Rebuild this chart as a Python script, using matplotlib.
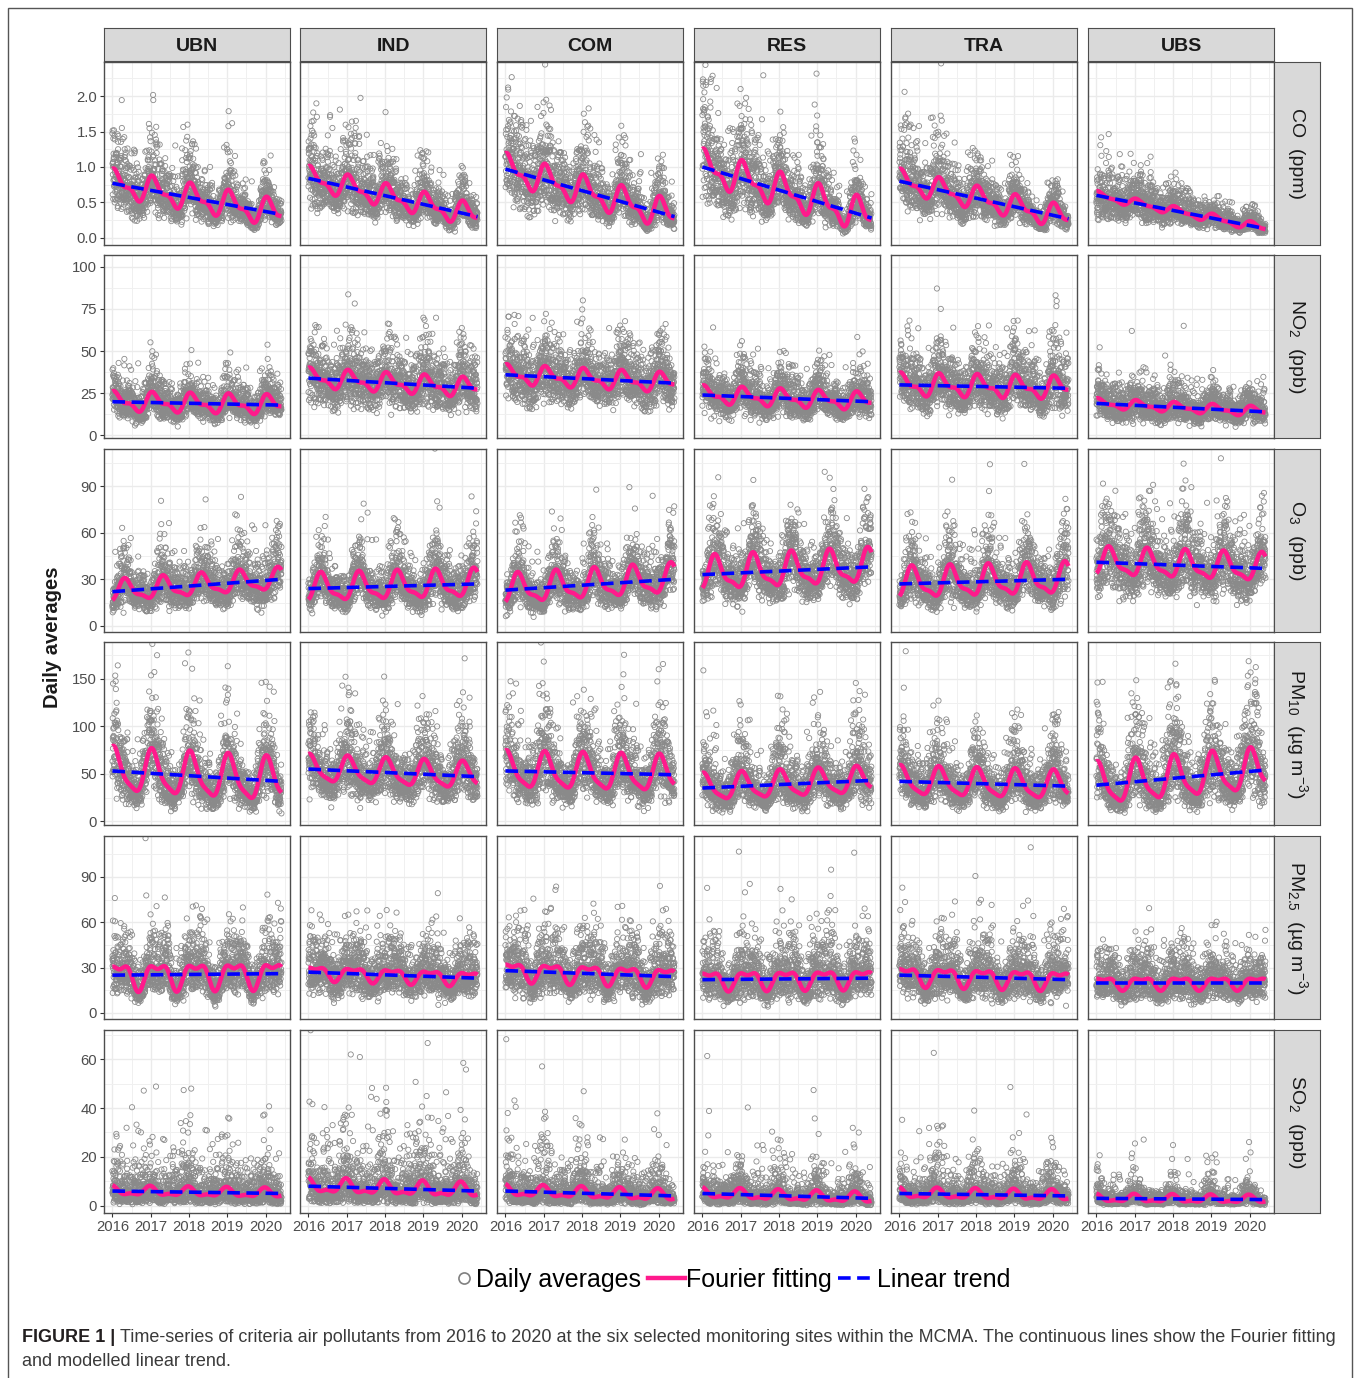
import numpy as np
import matplotlib
matplotlib.use("Agg")
import matplotlib.pyplot as plt
from matplotlib.lines import Line2D
from matplotlib.patches import Rectangle
from matplotlib.legend_handler import HandlerBase

plt.rcParams['font.family'] = ['Liberation Sans', 'DejaVu Sans']
plt.rcParams['mathtext.fontset'] = 'custom'
plt.rcParams['mathtext.rm'] = 'Liberation Sans'
plt.rcParams['mathtext.it'] = 'Liberation Sans:italic'
plt.rcParams['mathtext.default'] = 'regular'

# ---- data ----
sites = ["UBN", "IND", "COM", "RES", "TRA", "UBS"]
row_labels = ["CO  (ppm)", "NO$_2$  (ppb)", "O$_3$  (ppb)",
              "PM$_{10}$  (µg m$^{-3}$)", "PM$_{2.5}$  (µg m$^{-3}$)", "SO$_2$  (ppb)"]
year_ticks = [2016, 2017, 2018, 2019, 2020]
y_ticks = [[0, 0.5, 1.0, 1.5, 2.0], [0, 25, 50, 75, 100], [0, 30, 60, 90],
           [0, 50, 100, 150], [0, 30, 60, 90], [0, 20, 40, 60]]
y_limits = [(-0.1, 2.48), (-1.5, 107), (-4, 114), (-4, 189), (-4, 117), (-3, 72)]
t_first, t_last = 2016.0, 2020.42

# linear trend at start / end of record (rows: CO NO2 O3 PM10 PM2.5 SO2, cols: sites)
trend_start = [[0.77, 0.84, 0.97, 1.00, 0.80, 0.60],
               [20, 34, 36, 24, 30, 19],
               [22, 24, 23, 33, 27, 41],
               [53, 55, 53, 35, 42, 38],
               [25, 27, 28, 22, 25, 20],
               [6, 8, 6, 5, 5, 3]]
trend_end = [[0.33, 0.30, 0.30, 0.28, 0.27, 0.13],
             [18, 28, 31, 20, 28, 14],
             [30, 27, 30, 38, 30, 37],
             [42, 47, 49, 43, 37, 54],
             [26, 23, 24, 23, 22, 20],
             [5, 6, 4, 3, 4, 2.5]]
# half of peak-to-trough swing of the Fourier curve
season_amp = [[0.20, 0.17, 0.22, 0.25, 0.17, 0.06],
              [6, 6, 6, 5.5, 7, 3],
              [7, 9, 9.5, 11, 10, 9],
              [23, 14, 19, 14, 15, 22],
              [8.5, 4.5, 6, 6, 6, 4],
              [1.8, 2.8, 2.2, 2.0, 2.0, 1.5]]
# seasonal shape per pollutant: annual phase, 2nd harmonic weight, 2nd harmonic phase
shape_p1 = [0.10, 0.10, 0.35, 0.05, 0.18, 0.98]
shape_a2 = [0.5, 0.5, 0.35, 0.25, -0.5, 0.5]
shape_p2 = [0.0, 0.0, 0.30, 0.0, 0.68, 0.98]
# estimated scatter of the daily cloud (log spread) around the Fourier curve
cloud_spread = [[0.33, 0.33, 0.35, 0.37, 0.33, 0.32],
                [0.30, 0.30, 0.28, 0.30, 0.30, 0.32],
                [0.31, 0.32, 0.32, 0.28, 0.30, 0.28],
                [0.36, 0.33, 0.35, 0.38, 0.36, 0.40],
                [0.36, 0.36, 0.37, 0.40, 0.38, 0.38],
                [0.75, 0.75, 0.75, 0.75, 0.70, 0.65]]

# ---- layout (pixels of the 1358x1378 figure) ----
W, H = 1358, 1378
col_left = [104, 300, 497, 694, 891, 1088]
row_top = [62, 255, 449, 642, 836, 1030]
pw, ph = 186, 183


def box(x0, y0, x1, y1):
    return [x0 / W, 1 - y1 / H, (x1 - x0) / W, (y1 - y0) / H]


class CircleRight(HandlerBase):
    # legend circle sits right next to its label, like ggplot's key
    def create_artists(self, legend, orig_handle, xdescent, ydescent, width, height, fontsize, trans):
        ln = Line2D([width - xdescent - 0.45 * fontsize], [height / 2 - ydescent], marker='o',
                    ls='', mfc='none', mec='#808080', ms=8, mew=1.2, transform=trans)
        return [ln]


fig = plt.figure(figsize=(W / 100, H / 100), dpi=100)

# daily points cannot be read one by one: the cloud is drawn from the estimated spread
rng = np.random.default_rng(2020)
days = t_first + np.arange(int((t_last - t_first) * 365.25)) / 365.25

PINK = "#FF1A8C"
GREY = "#8A8A8A"

for r in range(6):
    frac = days % 1
    raw = (np.cos(2 * np.pi * (frac - shape_p1[r]))
           + shape_a2[r] * np.cos(4 * np.pi * (frac - shape_p2[r])))
    yy = np.linspace(0, 1, 400)
    ref = (np.cos(2 * np.pi * (yy - shape_p1[r]))
           + shape_a2[r] * np.cos(4 * np.pi * (yy - shape_p2[r])))
    shape = raw / ((ref.max() - ref.min()) / 2)
    for c in range(6):
        ax = fig.add_axes(box(col_left[c], row_top[r], col_left[c] + pw, row_top[r] + ph))
        s0, s1 = trend_start[r][c], trend_end[r][c]
        trend = s0 + (s1 - s0) * (days - t_first) / (t_last - t_first)
        fourier = trend + season_amp[r][c] * shape
        base = np.clip(fourier, 0.02 * y_limits[r][1], None)
        pts = base * np.exp(cloud_spread[r][c] * rng.standard_normal(days.size))
        ax.scatter(days, pts, s=14, facecolors='none', edgecolors=GREY, linewidths=0.6, zorder=2)
        ax.plot(days, fourier, color=PINK, lw=3.2, zorder=3, solid_capstyle='butt')
        ax.plot([t_first, t_last], [s0, s1], color='blue', lw=2.6, ls=(0, (3.5, 1.8)), zorder=4)

        ax.set_xticks(year_ticks)
        ax.set_xticks([y + 0.5 for y in year_ticks], minor=True)
        yt = y_ticks[r]
        ax.set_yticks(yt)
        ax.set_yticks([v + (yt[1] - yt[0]) / 2 for v in yt], minor=True)
        if r == 0:
            ax.set_yticklabels([f"{v:.1f}" for v in yt])
        ax.set_xlim(2015.78, 2020.64)
        ax.set_ylim(*y_limits[r])
        ax.grid(which='major', color='#EBEBEB', lw=1.0)
        ax.grid(which='minor', color='#F0F0F0', lw=0.7)
        ax.set_axisbelow(True)
        for sp in ax.spines.values():
            sp.set_color('#4D4D4D')
            sp.set_linewidth(1.0)
        ax.tick_params(which='major', length=3, width=0.8, color='#333333',
                       labelsize=10.7, labelcolor='#4D4D4D', pad=2)
        ax.tick_params(which='minor', length=0)
        if c != 0:
            ax.tick_params(axis='y', left=False, labelleft=False)
        if r != 5:
            ax.tick_params(axis='x', bottom=False, labelbottom=False)

# column strips
for c, name in enumerate(sites):
    sa = fig.add_axes(box(col_left[c], 28, col_left[c] + pw, 61))
    sa.set_facecolor('#D9D9D9')
    sa.set_xticks([])
    sa.set_yticks([])
    for sp in sa.spines.values():
        sp.set_color('#4D4D4D')
    sa.text(0.5, 0.45, name, ha='center', va='center', fontsize=14, fontweight='bold',
            color='#1A1A1A', transform=sa.transAxes)

# row strips
for r, lab in enumerate(row_labels):
    sa = fig.add_axes(box(1274, row_top[r], 1320, row_top[r] + ph))
    sa.set_facecolor('#D9D9D9')
    sa.set_xticks([])
    sa.set_yticks([])
    for sp in sa.spines.values():
        sp.set_color('#4D4D4D')
    sa.text(0.5, 0.5, lab, ha='center', va='center', rotation=270, fontsize=14,
            color='#1A1A1A', transform=sa.transAxes)

fig.text(52 / W, 1 - 637 / H, "Daily averages", rotation=90, ha='center', va='center',
         fontsize=14.5, fontweight='bold', color='#1A1A1A')

circle = Line2D([], [], marker='o', ls='', mfc='none', mec='#808080', ms=8, mew=1.2)
handles = [circle,
           Line2D([], [], color=PINK, lw=3.2),
           Line2D([], [], color='blue', lw=2.6, ls=(0, (3.5, 1.8)))]
fig.legend(handles, ["Daily averages", "Fourier fitting", "Linear trend"], loc='center',
           bbox_to_anchor=(724 / W, 1 - 1280 / H), ncol=3, frameon=False, fontsize=18,
           handlelength=1.5, handletextpad=0.05, columnspacing=0.25,
           handler_map={circle: CircleRight()})

# caption
renderer = fig.canvas.get_renderer()
t1 = fig.text(22 / W, 1 - 1338 / H, "FIGURE 1 |", fontsize=13.0, fontweight='bold',
              color='#231F20', va='center')
bb = t1.get_window_extent(renderer)
fig.text((bb.x1 + 5) / W, 1 - 1338 / H,
         "Time-series of criteria air pollutants from 2016 to 2020 at the six selected "
         "monitoring sites within the MCMA. The continuous lines show the Fourier fitting",
         fontsize=13.0, color='#3A3A3A', va='center')
fig.text(22 / W, 1 - 1362 / H, "and modelled linear trend.", fontsize=13.0,
         color='#3A3A3A', va='center')

fig.patches.append(Rectangle((7.5 / W, -0.01), (1352 - 7.5) / W, 1.01 - 8 / H,
                             transform=fig.transFigure, fill=False, ec='#555555', lw=1.0))

fig.savefig("out.png", dpi=100)
